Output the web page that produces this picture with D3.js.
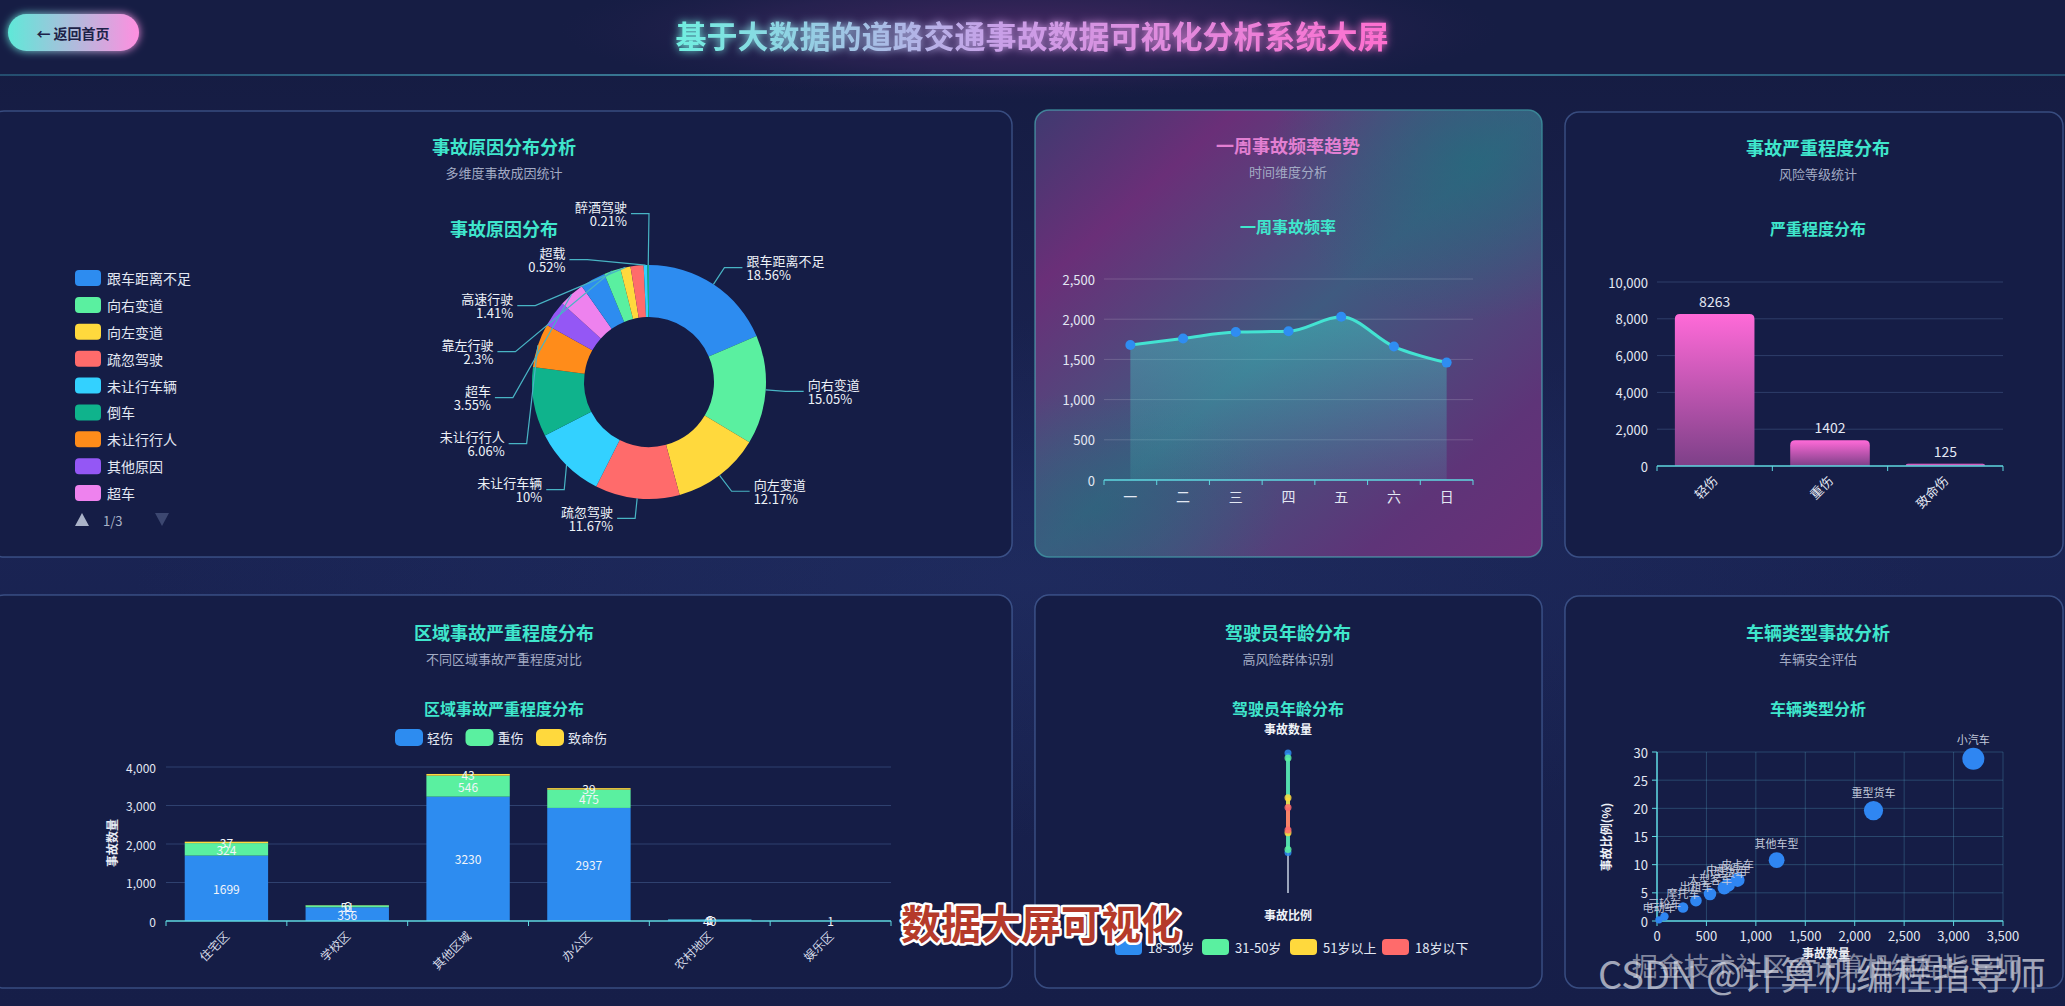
<!DOCTYPE html>
<html><head><meta charset="utf-8">
<script src="https://cdn.jsdelivr.net/npm/d3@7"></script>
<style>
html,body{margin:0;padding:0;background:#172150;overflow:hidden;}
svg{display:block;font-family:"Noto Sans CJK SC","Noto Sans",sans-serif;}
</style></head><body>
<svg id="c" width="2065" height="1006"></svg>
<script>
// ---------------- data ----------------
const pageTitle = '基于大数据的道路交通事故数据可视化分析系统大屏';
const backLabel = '← 返回首页';

const causeNames = ['跟车距离不足','向右变道','向左变道','疏忽驾驶','未让行车辆','倒车','未让行行人','其他原因','超车','逆行','靠左行驶','高速行驶','违法掉头','超载','醉酒驾驶'];
const causeShares = [18.56,15.05,12.17,11.67,10,9.6,6.06,3.6,3.55,3.5,2.3,1.41,1.8,0.52,0.21];
const causeLabelled = ['跟车距离不足','向右变道','向左变道','疏忽驾驶','未让行车辆','未让行行人','超车','靠左行驶','高速行驶','超载','醉酒驾驶'];
const causeColors = ['#2d8cf0','#5af0a0','#ffd93d','#ff6b6b','#33d1ff','#0fb38c','#ff8c1a','#9457f5','#ee82ee'];
const causeLegendCount = 9;
const causeLegendPage = '1/3';

const weekDays = ['一','二','三','四','五','六','日'];
const weekValues = [1680,1760,1840,1850,2030,1660,1460];
const weekTicks = [0,500,1000,1500,2000,2500];

const severityNames = ['轻伤','重伤','致命伤'];
const severityValues = [8263,1402,125];
const severityTicks = [0,2000,4000,6000,8000,10000];

const areaNames = ['住宅区','学校区','其他区域','办公区','农村地区','娱乐区'];
const areaSeries = ['轻伤','重伤','致命伤'];
const areaLight = [1699,356,3230,2937,40,1];
const areaSerious = [324,51,546,475,6,0];
const areaFatal = [37,6,43,39,1,0];
const areaColors = ['#2d8cf0','#5af0a0','#ffd93d'];
const areaTicks = [0,1000,2000,3000,4000];

const ageGroups = ['18-30岁','31-50岁','51岁以上','18岁以下'];
const ageColors = ['#2d8cf0','#5af0a0','#ffd93d','#ff6b6b'];
const ageTop = [100,96.5,68,61];
const ageBottom = [29,31,43,45];

const vehicleNames = ['小汽车','重型货车','其他车型','皮卡车','中型货车','小型货车','大型客车','出租车','摩托车','三轮车','电动车'];
const vehicleCounts = [3200,2190,1210,815,720,680,536,394,263,75,20];
const vehicleRatios = [28.8,19.6,10.8,7.3,6.4,5.9,4.8,3.6,2.4,0.8,0.2];
const vehicleXTicks = [0,500,1000,1500,2000,2500,3000,3500];
const vehicleYTicks = [0,5,10,15,20,25,30];

// ---------------- helpers ----------------
const W = 2065, H = 1006;
const svg = d3.select('#c');
const defs = svg.append('defs');
function grad(id, x1, y1, x2, y2, stops, user) {
  const g = defs.append('linearGradient').attr('id', id)
    .attr('x1', x1).attr('y1', y1).attr('x2', x2).attr('y2', y2);
  if (user) g.attr('gradientUnits', 'userSpaceOnUse');
  stops.forEach(s => g.append('stop').attr('offset', s[0]).attr('stop-color', s[1]).attr('stop-opacity', s[2] == null ? 1 : s[2]));
  return 'url(#' + id + ')';
}
function rgrad(id, stops) {
  const g = defs.append('radialGradient').attr('id', id);
  stops.forEach(s => g.append('stop').attr('offset', s[0]).attr('stop-color', s[1]).attr('stop-opacity', s[2]));
  return 'url(#' + id + ')';
}
function txt(g, x, y, s, o = {}) {
  return g.append('text').attr('x', x).attr('y', y).text(s)
    .attr('font-size', o.size || 13).attr('fill', o.fill || '#e3e8f3')
    .attr('text-anchor', o.anchor || 'middle').attr('dominant-baseline', o.base || 'central')
    .attr('font-weight', o.weight || 'normal');
}

// ---------------- background ----------------
svg.append('rect').attr('width', W).attr('height', H)
  .attr('fill', grad('bg', 0, 0, 0, 1, [[0, '#151b40'], [0.5, '#1a2454'], [1, '#161e48']]));
svg.append('ellipse').attr('cx', 1030).attr('cy', 580).attr('rx', 900).attr('ry', 260)
  .attr('fill', rgrad('bgGlow', [[0, '#2a3c78', 0.3], [1, '#2a3c78', 0]]));

// header
svg.append('rect').attr('width', W).attr('height', 75).attr('fill', '#161d44');
svg.append('ellipse').attr('cx', 1030).attr('cy', 30).attr('rx', 470).attr('ry', 70)
  .attr('fill', rgrad('hdGlow', [[0, '#6a2f78', 0.55], [0.6, '#4a2a68', 0.3], [1, '#2a2050', 0]]));
svg.append('rect').attr('x', 0).attr('y', 74).attr('width', W).attr('height', 2)
  .attr('fill', grad('hdLine', 0, 0, 1, 0, [[0, '#3fa8c0', 0.35], [0.5, '#5fc8d8', 0.7], [1, '#3fa8c0', 0.35]]));
const tf = defs.append('filter').attr('id', 'glow').attr('x', '-20%').attr('y', '-50%').attr('width', '140%').attr('height', '200%');
tf.append('feGaussianBlur').attr('stdDeviation', 4).attr('result', 'b');
const fm = tf.append('feMerge'); fm.append('feMergeNode').attr('in', 'b'); fm.append('feMergeNode').attr('in', 'SourceGraphic');
txt(svg, 1032, 34, pageTitle, { size: 31, weight: 'bold',
  fill: grad('ttl', 672, 0, 1392, 0, [[0, '#6ff0e0'], [0.45, '#c8a0e8'], [1, '#ff6ecf']], true) })
  .attr('filter', 'url(#glow)');
// back button
const btn = svg.append('g');
btn.append('rect').attr('x', 8).attr('y', 14).attr('width', 131).attr('height', 37).attr('rx', 18.5)
  .attr('fill', grad('btnG', 0, 0, 1, 0, [[0, '#5fe8d8'], [1, '#ff8fe0']]))
  .attr('filter', 'url(#glow)');
txt(btn, 73, 33, backLabel, { size: 14, weight: 'bold', fill: '#1d2248' });

// ---------------- panels ----------------
function panel(x, y, w, h, fill, stroke) {
  svg.append('rect').attr('x', x).attr('y', y).attr('width', w).attr('height', h).attr('rx', 14)
    .attr('fill', fill || '#151d46').attr('stroke', stroke || 'rgba(100,135,200,0.45)').attr('stroke-width', 1.5);
}
panel(-10, 111, 1022, 446);
const p2fill = grad('p2', 0, 0, 1, 1, [[0, '#3f3a70'], [0.2, '#6a2f78'], [0.5, '#3f5a80'], [0.82, '#5e3478'], [1, '#6a2f78']]);
panel(1035, 110, 507, 447, p2fill, 'rgba(80,200,200,0.55)');
defs.append('clipPath').attr('id', 'p2clip').append('rect')
  .attr('x', 1035).attr('y', 110).attr('width', 507).attr('height', 447).attr('rx', 14);
const p2g = svg.append('g').attr('clip-path', 'url(#p2clip)');
p2g.append('ellipse').attr('cx', 1470).attr('cy', 160).attr('rx', 200).attr('ry', 160)
  .attr('fill', rgrad('p2b', [[0, '#1f6e7c', 0.65], [1, '#1f6e7c', 0]]));
p2g.append('ellipse').attr('cx', 1100).attr('cy', 510).attr('rx', 180).attr('ry', 120)
  .attr('fill', rgrad('p2c', [[0, '#236b7c', 0.5], [1, '#236b7c', 0]]));
panel(1565, 112, 498, 445);
panel(-10, 595, 1022, 393);
panel(1035, 595, 507, 393);
panel(1565, 596, 498, 392);

function heads(cx, y1, t1, t2, t3, y3, s3, c1) {
  txt(svg, cx, y1, t1, { size: 18, weight: 'bold', fill: c1 || '#3fe6cc' });
  txt(svg, cx, y1 + 26, t2, { size: 13, fill: '#a3abc4' });
  txt(svg, cx, y3, t3, { size: s3 || 16, weight: 'bold', fill: '#3fe6cc' });
}
heads(504, 146, '事故原因分布分析', '多维度事故成因统计', '事故原因分布', 228, 18);
heads(1288, 145, '一周事故频率趋势', '时间维度分析', '一周事故频率', 226, 16, '#e27fd2');
heads(1818, 147, '事故严重程度分布', '风险等级统计', '严重程度分布', 228);
heads(504, 632, '区域事故严重程度分布', '不同区域事故严重程度对比', '区域事故严重程度分布', 708);
heads(1288, 632, '驾驶员年龄分布', '高风险群体识别', '驾驶员年龄分布', 708);
heads(1818, 632, '车辆类型事故分析', '车辆安全评估', '车辆类型分析', 708);

// ---------------- panel 1: donut ----------------
(function () {
  const g = svg.append('g');
  const cx = 649, cy = 382, R = 117, r0 = 65, len1 = 20, len2 = 18, gap = 46;
  const data = causeNames.map((n, i) => ({ n, v: causeShares[i], c: causeColors[i % causeColors.length] }));
  const arcs = d3.pie().sort(null).value(d => d.v)(data);
  const arc = d3.arc().innerRadius(r0).outerRadius(R);
  g.selectAll('path.s').data(arcs).join('path').attr('class', 's')
    .attr('transform', `translate(${cx},${cy})`).attr('d', arc).attr('fill', d => d.data.c);
  // labels: push-down then partial balance shift
  const labs = arcs.filter(a => causeLabelled.includes(a.data.n)).map(a => {
    const m = (a.startAngle + a.endAngle) / 2;
    return { a, m, y0: cy - (R + len1) * Math.cos(m), side: Math.sin(m) >= 0 ? 1 : -1, bottom: Math.abs(m - Math.PI) < 0.35 };
  });
  [1, -1].forEach(side => {
    const grp = labs.filter(l => l.side === side && !l.bottom).sort((p, q) => p.y0 - q.y0);
    let total = 0;
    grp.forEach((l, i) => {
      l.y = i === 0 ? l.y0 : Math.max(l.y0, grp[i - 1].y + gap);
      total += l.y - l.y0;
    });
    const bal = grp.length ? 0.37 * total / grp.length : 0;
    grp.forEach(l => l.y -= bal);
  });
  labs.filter(l => l.bottom).forEach(l => l.y = l.y0);
  const R2 = R + len1;
  labs.forEach(l => {
    const dy = l.y - cy;
    const xe = cx + l.side * Math.sqrt(Math.max(0, R2 * R2 - dy * dy));
    const xEnd = xe + l.side * len2;
    const p0 = [cx + R * Math.sin(l.m), cy - R * Math.cos(l.m)];
    g.append('path').attr('d', `M${p0[0]},${p0[1]}L${xe},${l.y}L${xEnd},${l.y}`)
      .attr('fill', 'none').attr('stroke', '#48b4c4').attr('stroke-width', 1.2);
    const t = g.append('text').attr('font-size', 13).attr('fill', '#eef2f8')
      .attr('text-anchor', l.side > 0 ? 'start' : 'end');
    t.append('tspan').attr('x', xEnd + l.side * 4).attr('y', l.y - 7).attr('dominant-baseline', 'central').text(l.a.data.n);
    t.append('tspan').attr('x', xEnd + l.side * 4).attr('y', l.y + 7).attr('dominant-baseline', 'central').text(l.a.data.v + '%');
  });
  // legend (page 1)
  const ly = d3.scalePoint().domain(d3.range(causeLegendCount)).range([278, 493]);
  data.slice(0, causeLegendCount).forEach((d, i) => {
    g.append('rect').attr('x', 75).attr('y', ly(i) - 8).attr('width', 26).attr('height', 16).attr('rx', 4).attr('fill', d.c);
    txt(g, 107, ly(i), d.n, { size: 14, anchor: 'start' });
  });
  g.append('path').attr('d', 'M75,526L82,513L89,526Z').attr('fill', '#aab3c8');
  txt(g, 103, 520, causeLegendPage, { size: 13, fill: '#aab3c8', anchor: 'start' });
  g.append('path').attr('d', 'M155,513L169,513L162,526Z').attr('fill', '#3c4770');
})();

// ---------------- panel 2: weekly line ----------------
(function () {
  const g = svg.append('g');
  const x = d3.scaleBand().domain(weekDays).range([1104, 1473]);
  const y = d3.scaleLinear().domain([0, 2500]).range([480, 279]);
  weekTicks.forEach(t => {
    if (t > 0) g.append('line').attr('x1', 1104).attr('x2', 1473).attr('y1', y(t)).attr('y2', y(t)).attr('stroke', 'rgba(255,255,255,0.16)');
    txt(g, 1095, y(t), d3.format(',')(t), { size: 13, anchor: 'end', fill: '#e3e8f3' });
  });
  const pts = weekDays.map((d, i) => [x(d) + x.bandwidth() / 2, y(weekValues[i])]);
  const area = d3.area().x(p => p[0]).y0(y(0)).y1(p => p[1]).curve(d3.curveMonotoneX);
  g.append('path').attr('d', area(pts))
    .attr('fill', grad('wkA', 0, 0, 0, 1, [[0, '#40e0d0', 0.42], [1, '#40e0d0', 0.12]]));
  g.append('path').attr('d', d3.line().curve(d3.curveMonotoneX)(pts)).attr('fill', 'none')
    .attr('stroke', '#43e3d2').attr('stroke-width', 3);
  g.selectAll('circle').data(pts).join('circle').attr('cx', p => p[0]).attr('cy', p => p[1]).attr('r', 5).attr('fill', '#2f8df2');
  g.append('line').attr('x1', 1104).attr('x2', 1473).attr('y1', y(0)).attr('y2', y(0)).attr('stroke', '#5fd8e0').attr('stroke-width', 1.5);
  d3.range(weekDays.length + 1).forEach(i => {
    const xx = 1104 + i * x.step();
    g.append('line').attr('x1', xx).attr('x2', xx).attr('y1', y(0)).attr('y2', y(0) + 5).attr('stroke', '#5fd8e0');
  });
  weekDays.forEach(d => txt(g, x(d) + x.bandwidth() / 2, 496, d, { size: 14 }));
})();

// ---------------- panel 3: severity bars ----------------
function topRoundedBar(x, y, w, h, r) {
  r = Math.min(r, h, w / 2);
  return `M${x},${y + h}V${y + r}Q${x},${y} ${x + r},${y}H${x + w - r}Q${x + w},${y} ${x + w},${y + r}V${y + h}Z`;
}
(function () {
  const g = svg.append('g');
  const x = d3.scaleBand().domain(severityNames).range([1657, 2003]).paddingInner(0.31).paddingOuter(0.155);
  const y = d3.scaleLinear().domain([0, 10000]).range([466, 282]);
  severityTicks.forEach(t => {
    if (t > 0) g.append('line').attr('x1', 1657).attr('x2', 2003).attr('y1', y(t)).attr('y2', y(t)).attr('stroke', 'rgba(120,160,210,0.25)');
    txt(g, 1648, y(t), d3.format(',')(t), { size: 13, anchor: 'end' });
  });
  const fill = grad('sevG', 0, 0, 0, 1, [[0, '#ff6ad8'], [1, '#7d4088']]);
  severityNames.forEach((n, i) => {
    const v = severityValues[i];
    g.append('path').attr('d', topRoundedBar(x(n), y(v), x.bandwidth(), y(0) - y(v), 5)).attr('fill', fill);
    txt(g, x(n) + x.bandwidth() / 2, y(v) - 13, String(v), { size: 14 });
  });
  g.append('line').attr('x1', 1657).attr('x2', 2003).attr('y1', y(0)).attr('y2', y(0)).attr('stroke', '#5fd8e0').attr('stroke-width', 1.5);
  d3.range(severityNames.length + 1).forEach(i => {
    const xx = 1657 + i * x.step();
    g.append('line').attr('x1', xx).attr('x2', xx).attr('y1', y(0)).attr('y2', y(0) + 5).attr('stroke', '#5fd8e0');
  });
  severityNames.forEach(n => {
    const cx = x(n) + x.bandwidth() / 2, cy = y(0) + 12;
    txt(g, cx, cy, n, { size: 13, anchor: 'end' }).attr('transform', `rotate(-45,${cx},${cy})`);
  });
})();

// ---------------- panel 4: stacked area bars ----------------
(function () {
  const g = svg.append('g');
  const x = d3.scaleBand().domain(areaNames).range([166, 891]).paddingInner(0.31).paddingOuter(0.155);
  const y = d3.scaleLinear().domain([0, 4000]).range([921, 767]);
  areaTicks.forEach(t => {
    if (t > 0) g.append('line').attr('x1', 166).attr('x2', 891).attr('y1', y(t)).attr('y2', y(t)).attr('stroke', 'rgba(110,150,210,0.3)');
    txt(g, 156, y(t), d3.format(',')(t), { size: 12, anchor: 'end' });
  });
  const rows = areaNames.map((n, i) => ({ n, '轻伤': areaLight[i], '重伤': areaSerious[i], '致命伤': areaFatal[i] }));
  const stack = d3.stack().keys(areaSeries)(rows);
  stack.forEach((s, si) => {
    s.forEach(d => {
      g.append('rect').attr('x', x(d.data.n)).attr('y', y(d[1])).attr('width', x.bandwidth())
        .attr('height', Math.max(0, y(d[0]) - y(d[1]))).attr('fill', areaColors[si]);
    });
  });
  stack.forEach(s => {
    s.forEach(d => {
      const v = d[1] - d[0];
      if (v > 0) txt(g, x(d.data.n) + x.bandwidth() / 2, (y(d[0]) + y(d[1])) / 2, String(v), { size: 12, fill: '#f2f5fa' });
    });
  });
  g.append('line').attr('x1', 166).attr('x2', 891).attr('y1', y(0)).attr('y2', y(0)).attr('stroke', '#5fd8e0').attr('stroke-width', 1.5);
  d3.range(areaNames.length + 1).forEach(i => {
    const xx = 166 + i * x.step();
    g.append('line').attr('x1', xx).attr('x2', xx).attr('y1', y(0)).attr('y2', y(0) + 5).attr('stroke', '#5fd8e0');
  });
  areaNames.forEach(n => {
    const cx = x(n) + x.bandwidth() / 2, cy = y(0) + 12;
    txt(g, cx, cy, n, { size: 12, anchor: 'end', fill: '#d5dbe8' }).attr('transform', `rotate(-45,${cx},${cy})`);
  });
  txt(g, 111, 843, '事故数量', { size: 12, weight: 'bold', fill: '#e8ecf5' }).attr('transform', 'rotate(-90,111,843)');
  const lx = d3.scalePoint().domain(areaSeries).range([395, 536]);
  areaSeries.forEach((s, i) => {
    g.append('rect').attr('x', lx(s)).attr('y', 729).attr('width', 28).attr('height', 17).attr('rx', 5).attr('fill', areaColors[i]);
    txt(g, lx(s) + 32, 737.5, s, { size: 13, anchor: 'start' });
  });
})();

// ---------------- panel 5: driver age ----------------
(function () {
  const g = svg.append('g');
  const cx = 1288;
  const y = d3.scaleLinear().domain([0, 100]).range([893, 753]);
  txt(g, cx, 728, '事故数量', { size: 12, weight: 'bold', fill: '#f0f3f8' });
  txt(g, cx, 914, '事故比例', { size: 12, weight: 'bold', fill: '#f0f3f8' });
  g.append('line').attr('x1', cx).attr('x2', cx).attr('y1', y(100)).attr('y2', y(0)).attr('stroke', '#9aa4bb').attr('stroke-width', 2);
  ageGroups.forEach((a, i) => {
    g.append('line').attr('x1', cx).attr('x2', cx).attr('y1', y(ageTop[i])).attr('y2', y(ageBottom[i]))
      .attr('stroke', ageColors[i]).attr('stroke-width', 4).attr('stroke-opacity', 0.8);
    [ageTop[i], ageBottom[i]].forEach(v => g.append('circle').attr('cx', cx).attr('cy', y(v)).attr('r', 3.5).attr('fill', ageColors[i]).attr('fill-opacity', 0.85));
  });
  const lx = d3.scaleOrdinal().domain(ageGroups).range([1115, 1202, 1290, 1382]);
  ageGroups.forEach((a, i) => {
    g.append('rect').attr('x', lx(a)).attr('y', 939).attr('width', 27).attr('height', 16).attr('rx', 4).attr('fill', ageColors[i]);
    txt(g, lx(a) + 33, 947, a, { size: 13, anchor: 'start' });
  });
})();

// ---------------- panel 6: vehicle scatter ----------------
(function () {
  const g = svg.append('g');
  const x = d3.scaleLinear().domain([0, 3500]).range([1657, 2003]);
  const y = d3.scaleLinear().domain([0, 30]).range([921, 752]);
  const rs = d3.scalePow().exponent(0.5).domain([0, 3200]).range([3, 11]);
  vehicleXTicks.forEach(t => {
    g.append('line').attr('x1', x(t)).attr('x2', x(t)).attr('y1', 752).attr('y2', 921).attr('stroke', 'rgba(90,170,200,0.3)');
    g.append('line').attr('x1', x(t)).attr('x2', x(t)).attr('y1', 921).attr('y2', 926).attr('stroke', '#5fd8e0');
    txt(g, x(t), 935, d3.format(',')(t), { size: 13 });
  });
  vehicleYTicks.forEach(t => {
    g.append('line').attr('x1', 1657).attr('x2', 2003).attr('y1', y(t)).attr('y2', y(t)).attr('stroke', 'rgba(90,170,200,0.3)');
    g.append('line').attr('x1', 1652).attr('x2', 1657).attr('y1', y(t)).attr('y2', y(t)).attr('stroke', '#5fd8e0');
    txt(g, 1648, y(t), String(t), { size: 13, anchor: 'end' });
  });
  g.append('line').attr('x1', 1657).attr('x2', 2003).attr('y1', 921).attr('y2', 921).attr('stroke', '#5fd8e0').attr('stroke-width', 1.5);
  g.append('line').attr('x1', 1657).attr('x2', 1657).attr('y1', 752).attr('y2', 921).attr('stroke', '#5fd8e0').attr('stroke-width', 1.5);
  vehicleNames.forEach((n, i) => {
    g.append('circle').attr('cx', x(vehicleCounts[i])).attr('cy', y(vehicleRatios[i])).attr('r', rs(vehicleCounts[i])).attr('fill', '#2f86f2');
  });
  vehicleNames.forEach((n, i) => {
    const px = x(vehicleCounts[i]), py = y(vehicleRatios[i]), r = rs(vehicleCounts[i]);
    txt(g, px, py - r - 9, n, { size: 11, fill: '#c3cadb' });
  });
  txt(g, 1605, 837, '事故比例(%)', { size: 12, weight: 'bold', fill: '#eef1f7' }).attr('transform', 'rotate(-90,1605,837)');
  txt(g, 1826, 952, '事故数量', { size: 12, weight: 'bold', fill: '#eef1f7' });
})();

// ---------------- video caption & watermark overlays ----------------
txt(svg, 1041, 922, '数据大屏可视化', { size: 40, weight: 'bold', fill: '#b53a2a' })
  .attr('stroke', '#ffffff').attr('stroke-width', 5).attr('paint-order', 'stroke').attr('stroke-linejoin', 'round');
txt(svg, 1822, 972, 'CSDN @计算机编程指导师', { size: 38, fill: 'rgba(225,228,236,0.7)' });
txt(svg, 1826, 964, '掘金技术社区@计算机编程指导师', { size: 26, fill: 'rgba(225,228,236,0.55)' });
</script>
</body></html>
